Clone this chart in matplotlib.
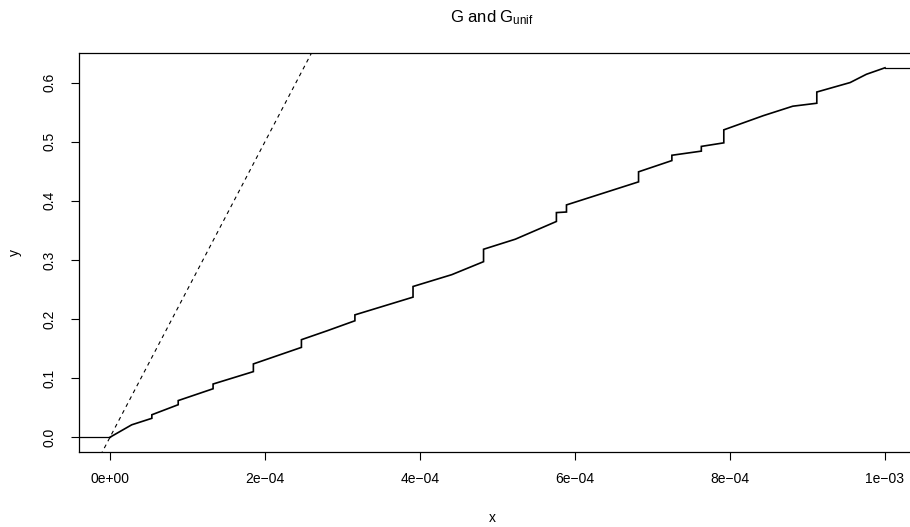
import matplotlib
matplotlib.use("Agg")
import matplotlib.pyplot as plt
import numpy as np

plt.rcParams['font.family'] = ['Liberation Sans', 'DejaVu Sans']
plt.rcParams['mathtext.fontset'] = 'custom'
plt.rcParams['mathtext.rm'] = 'Liberation Sans'
plt.rcParams['mathtext.it'] = 'Liberation Sans'

# ECDF trace (x, y); repeated x values are vertical jumps
ecdf_x = [0.0, 0.28e-4, 0.54e-4, 0.54e-4, 0.88e-4, 0.88e-4, 1.33e-4, 1.33e-4,
          1.85e-4, 1.85e-4, 2.47e-4, 2.47e-4, 2.80e-4, 3.16e-4, 3.16e-4,
          3.91e-4, 3.91e-4, 4.41e-4, 4.82e-4, 4.82e-4, 5.23e-4, 5.76e-4,
          5.76e-4, 5.89e-4, 5.89e-4, 6.82e-4, 6.82e-4, 7.25e-4, 7.25e-4,
          7.63e-4, 7.63e-4, 7.92e-4, 7.92e-4, 8.43e-4, 8.81e-4, 9.12e-4,
          9.12e-4, 9.55e-4, 9.76e-4, 10.0e-4]
ecdf_y = [0.0, 0.021, 0.032, 0.038, 0.055, 0.062, 0.082, 0.090,
          0.111, 0.124, 0.152, 0.165, 0.180, 0.197, 0.207,
          0.237, 0.255, 0.275, 0.297, 0.318, 0.335, 0.365,
          0.380, 0.381, 0.393, 0.432, 0.449, 0.468, 0.477,
          0.484, 0.492, 0.498, 0.520, 0.544, 0.560, 0.565,
          0.584, 0.600, 0.614, 0.625]

# Uniform reference line G_unif: y = slope * x
unif_slope = 2500.0

x_ticks = [0.0, 2e-4, 4e-4, 6e-4, 8e-4, 1e-3]
x_ticklabels = ["0e+00", "2e\u221204", "4e\u221204", "6e\u221204", "8e\u221204", "1e\u221203"]
y_ticks = [0.0, 0.1, 0.2, 0.3, 0.4, 0.5, 0.6]
y_ticklabels = ["0.0", "0.1", "0.2", "0.3", "0.4", "0.5", "0.6"]

W, H = 910, 527
fig = plt.figure(figsize=(W / 100, H / 100), dpi=100)
left, right, top, bottom = 79, 916, 53, 452
ax = fig.add_axes([left / W, 1 - bottom / H, (right - left) / W, (bottom - top) / H])

xmin, xmax = -4e-5, 1.04e-3
ymin, ymax = -0.025, 0.65
ax.set_xlim(xmin, xmax)
ax.set_ylim(ymin, ymax)

# ECDF
ax.plot(ecdf_x, ecdf_y, color='black', lw=1.2, solid_joinstyle='miter')
ax.plot([xmin, ecdf_x[0]], [ecdf_y[0], ecdf_y[0]], color='black', lw=0.9)
ax.plot([ecdf_x[-1], xmax], [ecdf_y[-1], ecdf_y[-1]], color='black', lw=0.9)

# dashed uniform line
lx = np.array([xmin, xmax])
ax.plot(lx, unif_slope * lx, color='black', lw=0.8, linestyle=(0, (3.5, 3.5)))

for s in ax.spines.values():
    s.set_linewidth(0.9)
    s.set_color('black')

ax.set_xticks(x_ticks)
ax.set_xticklabels(x_ticklabels)
ax.set_yticks(y_ticks)
ax.set_yticklabels(y_ticklabels, rotation=90, va='center')
ax.tick_params(axis='both', direction='out', length=5.5, width=0.8, labelsize=10, colors='black')
ax.tick_params(axis='x', pad=9)
ax.tick_params(axis='y', pad=11)

cx = 0.5 * (left + right) / W - 0.006
fig.text(cx, 1 - 18 / H, r'G and G$_{\mathrm{unif}}$', ha='center', va='center', fontsize=12)
fig.text(cx, 1 - 518 / H, 'x', ha='center', va='center', fontsize=10)
fig.text(15 / W, 1 - 0.5 * (top + bottom) / H, 'y', ha='center', va='center', rotation=90, fontsize=10)

fig.savefig('out.png', dpi=100)
